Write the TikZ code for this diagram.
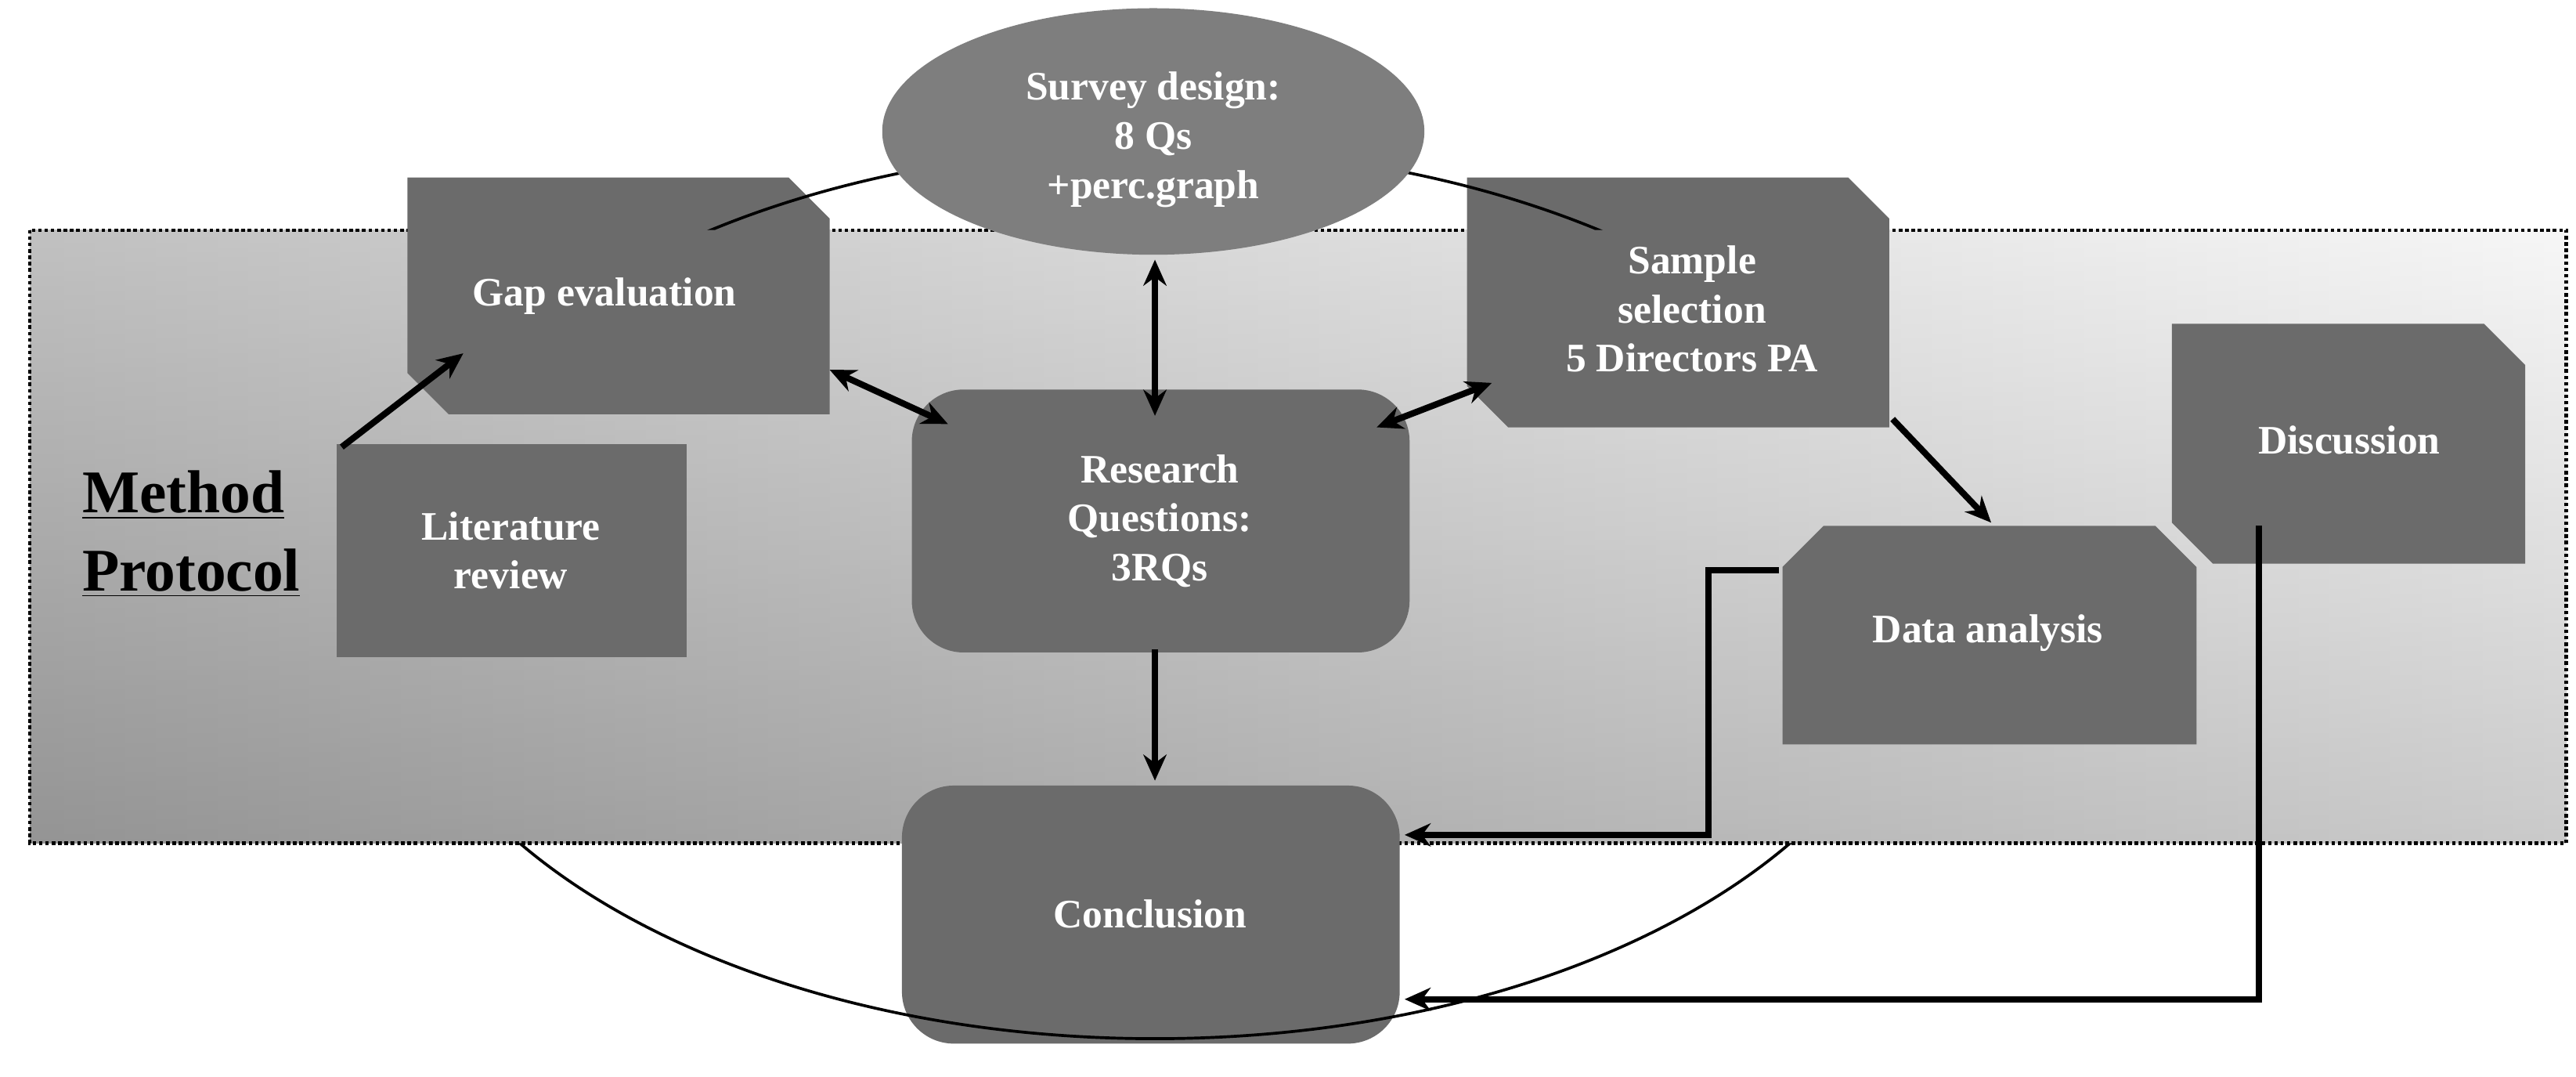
\documentclass[tikz,border=0pt]{standalone}
\usepackage{fontspec}
\setmainfont{Liberation Serif}
\usetikzlibrary{arrows.meta}
\begin{document}
\begin{tikzpicture}[x=0.02cm,y=-0.02cm,
  box/.style={fill=boxgray,draw=none},
  lbl/.style={text=white,font=\bfseries\fontsize{14}{17}\selectfont,align=center},
  arr/.style={line width=2.2pt,-{Stealth[length=9pt,width=8pt]}},
  darr/.style={line width=2.2pt,{Stealth[length=9pt,width=8pt]}-{Stealth[length=9pt,width=8pt]}}]
\definecolor{boxgray}{HTML}{6B6B6B}
\definecolor{ellgray}{HTML}{7E7E7E}
\useasboundingbox (0,0) rectangle (1568,655);
\fill[white] (0,0) rectangle (1568,655);
% gradient protocol area
\shade[left color=gray!75,right color=gray!10] (18,140) rectangle (1562,513);
\shade[top color=white,bottom color=gray,opacity=0.35] (18,140) rectangle (1562,513);
\draw[densely dotted,line width=1.2pt] (18,140) rectangle (1562,513);
% boxes
\path[box] (248,108) -- (480,108) -- (505,133) -- (505,252) -- (273,252) -- (248,227) -- cycle;
\node[lbl] (gap) at (368,180) {Gap evaluation};
\path[box] (205,270) rectangle (418,400);
\node[lbl] (lit) at (311,335) {Literature\\review};
\path[box,rounded corners=18pt] (555,237) rectangle (858,397);
\node[lbl] (rq) at (706,317) {Research\\Questions:\\3RQs};
\path[box] (893,108) -- (1125,108) -- (1150,133) -- (1150,260) -- (918,260) -- (893,235) -- cycle;
\node[lbl] (sam) at (1030,188) {Sample\\selection\\5 Directors PA};
\path[box] (1322,197) -- (1512,197) -- (1537,222) -- (1537,343) -- (1347,343) -- (1322,318) -- cycle;
\node[lbl] (dis) at (1430,268) {Discussion};
\path[box] (1110,320) -- (1312,320) -- (1337,345) -- (1337,453) -- (1085,453) -- (1085,345) -- cycle;
\node[lbl] (dat) at (1210,385) {Data analysis};
\path[box,rounded corners=18pt] (549,478) rectangle (852,635);
\node[lbl] (con) at (700,556) {Conclusion};
% big ellipse outside the dotted area
\begin{scope}[even odd rule]
\clip (0,0) rectangle (1568,655) (18,140) rectangle (1562,513);
\draw[line width=1pt] (703,361) ellipse [x radius=467,y radius=271];
\end{scope}
% survey ellipse
\fill[ellgray] (702,80) ellipse [x radius=165,y radius=75];
\node[lbl] (sur) at (702,85) {Survey design:\\8 Qs\\+perc.graph};
% method protocol
\node[font=\bfseries\fontsize{21}{27}\selectfont,align=left,anchor=west] (mp) at (44,325) {\underline{Method}\\\underline{Protocol}};
% arrows
\coordinate (l1) at (208,272); \coordinate (g1) at (282,215);
\draw[arr] (l1) -- (g1);
\coordinate (g2) at (505,225); \coordinate (r1) at (577,258);
\draw[darr] (g2) -- (r1);
\coordinate (s1) at (703,158); \coordinate (r2) at (703,253);
\draw[darr] (s1) -- (r2);
\coordinate (r3) at (838,260); \coordinate (sa1) at (908,233);
\draw[darr] (r3) -- (sa1);
\coordinate (sa2) at (1152,255); \coordinate (d1) at (1212,318);
\draw[arr] (sa2) -- (d1);
\coordinate (r4) at (703,395); \coordinate (c1) at (703,475);
\draw[arr] (r4) -- (c1);
\coordinate (d2) at (1083,347); \coordinate (c2) at (855,508);
\draw[arr] (d2) -- (1040,347) -- (1040,508) -- (c2);
\coordinate (di) at (1375,320); \coordinate (c3) at (855,608);
\draw[arr] (di) -- (1375,608) -- (c3);
\end{tikzpicture}
\end{document}
